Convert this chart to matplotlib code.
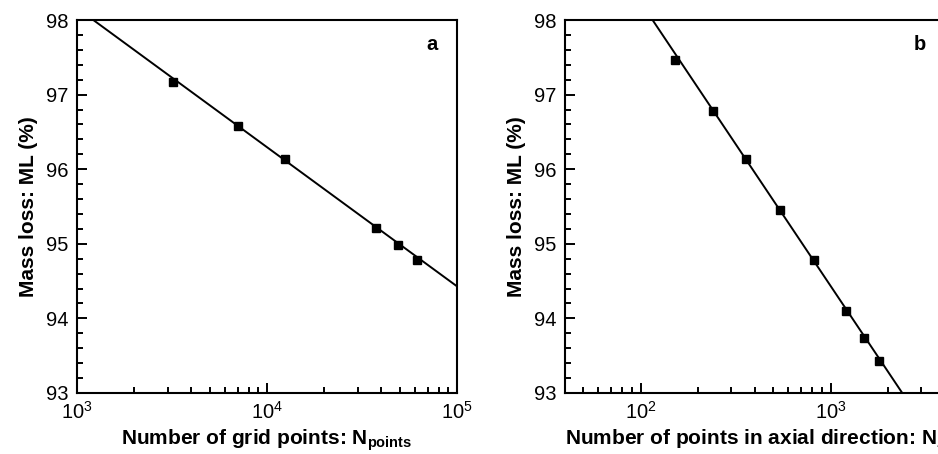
import matplotlib
matplotlib.use("Agg")
import matplotlib.pyplot as plt
from matplotlib.ticker import LogLocator, MultipleLocator, NullFormatter

plt.rcParams['font.family'] = ['Liberation Sans', 'DejaVu Sans']
plt.rcParams['mathtext.fontset'] = 'custom'
plt.rcParams['mathtext.rm'] = 'Liberation Sans'
plt.rcParams['mathtext.bf'] = 'Liberation Sans:bold'

# Panel a: grid points vs mass loss
grid_points = [3200, 7020, 12440, 37300, 48800, 61400]
mass_loss_a = [97.17, 96.58, 96.14, 95.21, 94.99, 94.78]
fit_a_x = [1000, 100000]
fit_a_y = [98.16, 94.43]

# Panel b: axial points vs mass loss
axial_points = [151.5, 240, 357, 539, 815, 1199, 1497, 1795]
mass_loss_b = [97.46, 96.78, 96.14, 95.45, 94.78, 94.10, 93.74, 93.43]
fit_b_x = [115.6, 2383]
fit_b_y = [98.0, 93.0]

W, H = 938, 454
fig = plt.figure(figsize=(W / 100, H / 100), dpi=100)
axa = fig.add_axes([77 / W, (H - 393) / H, 380 / W, 373 / H])
axb = fig.add_axes([565 / W, (H - 393) / H, 380 / W, 373 / H])

def style(ax, xlim, xlabel, tag):
    ax.set_xscale('log')
    ax.set_xlim(*xlim)
    ax.set_ylim(93, 98)
    ax.yaxis.set_major_locator(MultipleLocator(1))
    ax.yaxis.set_minor_locator(MultipleLocator(0.2))
    ax.xaxis.set_minor_locator(LogLocator(base=10, subs=range(2, 10)))
    ax.xaxis.set_minor_formatter(NullFormatter())
    ax.tick_params(which='both', direction='in', top=False, right=False,
                   labelsize=14.5, width=1.4)
    ax.tick_params(which='major', length=7.2)
    ax.tick_params(which='minor', length=4.3)
    ax.tick_params(axis='y', which='major', pad=6)
    ax.tick_params(axis='x', which='major', pad=6)
    for s in ax.spines.values():
        s.set_linewidth(1.5)
    ax.set_ylabel('Mass loss: ML (%)', fontsize=15, fontweight='bold', labelpad=6)
    ax.set_xlabel(xlabel, fontsize=15, fontweight='bold', labelpad=3)
    ax.text(0.935, 0.935, tag, transform=ax.transAxes, fontsize=14.5,
            fontweight='bold', ha='center', va='center')

axa.plot(fit_a_x, fit_a_y, color='black', lw=1.4)
axa.plot(grid_points, mass_loss_a, 's', color='black', ms=6, ls='none')
style(axa, (1e3, 1e5), r'Number of grid points: N$_{\mathbf{points}}$', 'a')

axb.plot(fit_b_x, fit_b_y, color='black', lw=1.4)
axb.plot(axial_points, mass_loss_b, 's', color='black', ms=6, ls='none')
style(axb, (40, 4000), r'Number of points in axial direction: N$_{\mathbf{z}}$', 'b')

fig.savefig('out.png', dpi=100)
